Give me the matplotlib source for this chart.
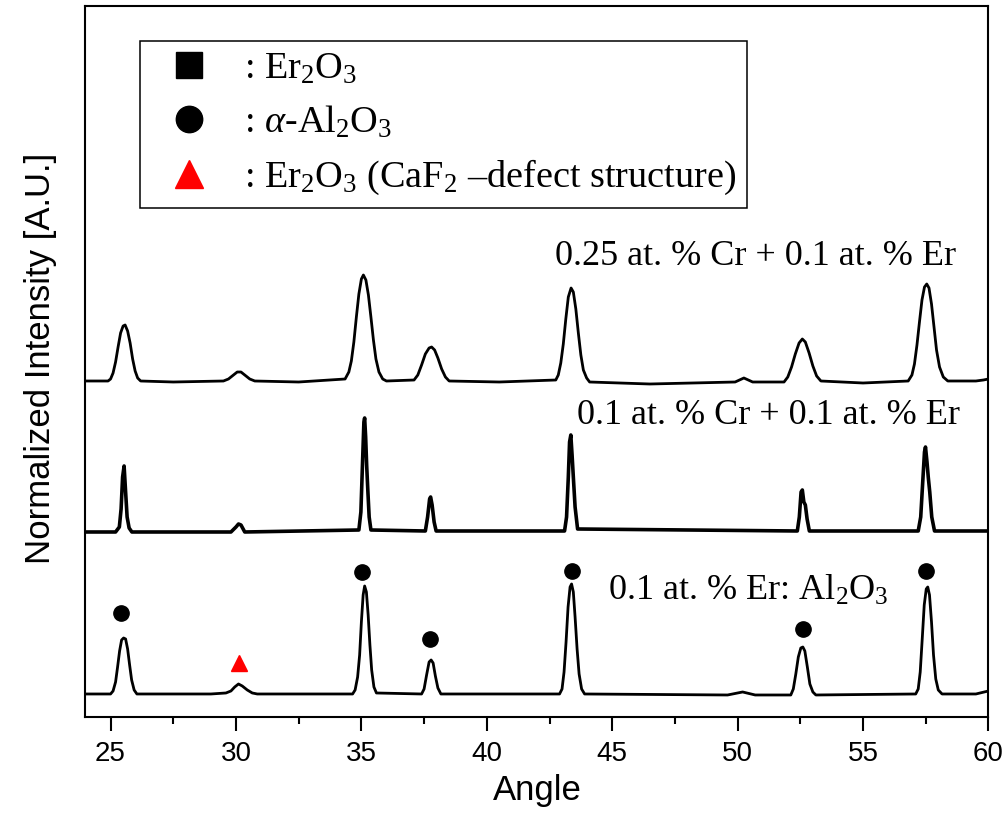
import matplotlib
matplotlib.use("Agg")
import matplotlib.pyplot as plt
from matplotlib.lines import Line2D
from matplotlib.font_manager import FontProperties
from matplotlib.ticker import MultipleLocator

plt.rcParams['font.family'] = ['Liberation Sans', 'DejaVu Sans']
plt.rcParams['mathtext.fontset'] = 'custom'
plt.rcParams['mathtext.rm'] = 'Liberation Serif'
plt.rcParams['mathtext.it'] = 'Liberation Serif:italic'

# 0.25 at.% Cr + 0.1 at.% Er (top trace)
top_x = [24.0, 24.9, 25.0, 25.1, 25.2, 25.3, 25.4, 25.5, 25.58, 25.68, 25.78, 25.88, 25.98, 26.08, 26.2,
         27.5, 29.5, 29.7, 29.9, 30.05, 30.2, 30.35, 30.55, 30.75, 32.5,
         34.35, 34.5, 34.6, 34.7, 34.8, 34.9, 35.0, 35.08, 35.18, 35.28, 35.38, 35.48, 35.58, 35.7, 35.85, 36.0,
         37.1, 37.25, 37.4, 37.55, 37.7, 37.8, 37.92, 38.05, 38.2, 38.35, 38.5, 40.5,
         42.75, 42.85, 42.95, 43.05, 43.15, 43.25, 43.36, 43.45, 43.55, 43.65, 43.75, 43.85, 43.98, 44.1,
         46.5, 49.9, 50.25, 50.6,
         51.85, 52.0, 52.15, 52.3, 52.45, 52.58, 52.7, 52.85, 53.0, 53.15, 53.32, 55.0,
         56.8, 56.95, 57.05, 57.15, 57.25, 57.35, 57.45, 57.54, 57.63, 57.73, 57.83, 57.93, 58.05, 58.2, 58.38,
         59.5, 59.8, 60.0]
top_y = [336, 336, 338, 344, 355, 370, 384, 391, 392, 386, 374, 358, 346, 339, 336,
         335, 336, 338, 342, 345, 345, 342, 338, 336, 335,
         338, 345, 356, 375, 400, 423, 438, 442, 437, 422, 400, 377, 358, 345, 338, 336,
         337, 342, 352, 363, 369, 370, 367, 359, 348, 340, 336, 335,
         337, 342, 354, 373, 398, 420, 429, 425, 408, 384, 362, 347, 339, 335,
         333, 335, 339, 335,
         335, 340, 350, 363, 374, 378, 375, 364, 351, 341, 336, 334,
         336, 342, 353, 372, 395, 417, 430, 433, 429, 413, 390, 367, 350, 340, 336,
         336, 337, 338]

# 0.1 at.% Cr + 0.1 at.% Er (middle trace)
mid_x = [24.0, 25.2, 25.35, 25.42, 25.48, 25.54, 25.6, 25.66, 25.74, 25.85,
         29.8, 30.0, 30.1, 30.2, 30.35,
         34.9, 34.98, 35.04, 35.1, 35.13, 35.17, 35.21, 35.26, 35.31, 35.38,
         37.55, 37.64, 37.72, 37.76, 37.82, 37.9, 37.98,
         43.1, 43.18, 43.25, 43.3, 43.35, 43.4, 43.45, 43.52, 43.62,
         52.38, 52.46, 52.53, 52.58, 52.64, 52.7, 52.77, 52.86,
         57.2, 57.3, 57.38, 57.45, 57.49, 57.55, 57.6, 57.66, 57.74, 57.85,
         60.0]
mid_y = [185, 185, 190, 208, 240, 251, 225, 200, 189, 185,
         185, 190, 193, 192, 185,
         187, 205, 250, 295, 299, 280, 252, 225, 200, 187,
         186, 200, 218, 220, 212, 195, 186,
         186, 200, 240, 275, 282, 262, 240, 210, 188,
         186, 200, 225, 227, 215, 212, 198, 186,
         186, 200, 235, 265, 270, 255, 240, 225, 200, 186,
         186]

# 0.1 at.% Er: Al2O3 (bottom trace)
bot_x = [24.0, 25.0, 25.1, 25.2, 25.28, 25.36, 25.44, 25.52, 25.6, 25.68, 25.76, 25.84, 25.94, 26.05,
         29.0, 29.6, 29.8, 29.95, 30.1, 30.25, 30.45, 30.65, 30.85,
         34.65, 34.75, 34.85, 34.93, 35.0, 35.07, 35.13, 35.2, 35.27, 35.34, 35.41, 35.5, 35.6,
         37.4, 37.5, 37.6, 37.7, 37.78, 37.86, 37.95, 38.05, 38.17,
         42.9, 43.0, 43.08, 43.16, 43.24, 43.32, 43.38, 43.45, 43.52, 43.6, 43.68, 43.78, 43.9,
         49.6, 50.2, 50.7,
         52.12, 52.22, 52.32, 52.42, 52.52, 52.6, 52.68, 52.78, 52.88, 53.0, 53.12,
         57.1, 57.2, 57.28, 57.36, 57.44, 57.52, 57.58, 57.65, 57.73, 57.81, 57.9, 58.0, 58.15,
         59.5, 60.0]
bot_y = [23, 23, 26, 35, 50, 66, 77, 79, 78, 68, 52, 37, 27, 23,
         23, 24, 26, 30, 33, 31, 27, 24, 23,
         23, 27, 40, 62, 95, 122, 131, 125, 102, 72, 47, 30, 24,
         23, 28, 42, 55, 57, 54, 41, 29, 23,
         23, 28, 45, 75, 110, 130, 133, 125, 100, 68, 43, 28, 23,
         22, 25, 22,
         22, 28, 43, 60, 69, 70, 66, 50, 33, 25, 22,
         23, 28, 45, 78, 112, 128, 130, 122, 95, 62, 38, 27, 23,
         23, 26]

# phase markers on the bottom trace
dot_x = [25.4, 35.04, 37.73, 43.38, 52.62, 57.5]
dot_y = [104, 145, 78, 146, 88, 146]
tri_x = [30.14]
tri_y = [54]

labels = ['0.25 at. % Cr + 0.1 at. % Er',
          '0.1 at. % Cr + 0.1 at. % Er',
          r'0.1 at. % Er: Al$_2$O$_3$']

fig = plt.figure(figsize=(10.08, 8.13), dpi=100)
ax = fig.add_axes([0.0848, 0.1181, 0.8958, 0.8745])

ax.plot(top_x, top_y, color='black', lw=2.0)
ax.plot(mid_x, mid_y, color='black', lw=2.6)
ax.plot(bot_x, bot_y, color='black', lw=2.0)

ax.plot(dot_x, dot_y, 'o', color='black', ms=11, ls='none')
ax.plot(tri_x, tri_y, '^', color='red', ms=12, ls='none')

serif = FontProperties(family='Liberation Serif', size=26)
ax.text(58.72, 452, labels[0], ha='right', va='baseline', fontproperties=serif)
ax.text(58.85, 293, labels[1], ha='right', va='baseline', fontproperties=serif)
ax.text(44.84, 117, labels[2], ha='left', va='baseline', fontproperties=serif)

ax.set_xlim(24, 60)
ax.set_ylim(0, 711)
ax.set_yticks([])
ax.xaxis.set_major_locator(MultipleLocator(5))
ax.xaxis.set_minor_locator(MultipleLocator(2.5))
ax.tick_params(axis='x', which='major', length=10, width=1.5, labelsize=20, pad=7)
ax.tick_params(axis='x', which='minor', length=5, width=1.5)
for s in ax.spines.values():
    s.set_linewidth(1.5)

ax.set_xlabel('Angle', fontsize=25, labelpad=5)
ax.set_ylabel('Normalized Intensity [A.U.]', fontsize=25)
ax.yaxis.set_label_coords(-0.032, 0.505)

handles = [Line2D([], [], marker='s', color='black', ls='none', ms=19),
           Line2D([], [], marker='o', color='black', ls='none', ms=19),
           Line2D([], [], marker='^', color='red', ls='none', ms=20)]
names = [r': Er$_2$O$_3$', r': $\alpha$-Al$_2$O$_3$',
         r': Er$_2$O$_3$ (CaF$_2$ –defect structure)']
leg_font = FontProperties(family='Liberation Serif', size=27.5)
leg = ax.legend(handles, names, loc='upper left', bbox_to_anchor=(0.0604, 0.951),
                borderaxespad=0, prop=leg_font, frameon=True, fancybox=False,
                edgecolor='black', framealpha=1, borderpad=0.28,
                handlelength=2.0, handletextpad=0.45, labelspacing=0.46)
leg.get_frame().set_linewidth(1.1)

fig.savefig('out.png', dpi=100)
